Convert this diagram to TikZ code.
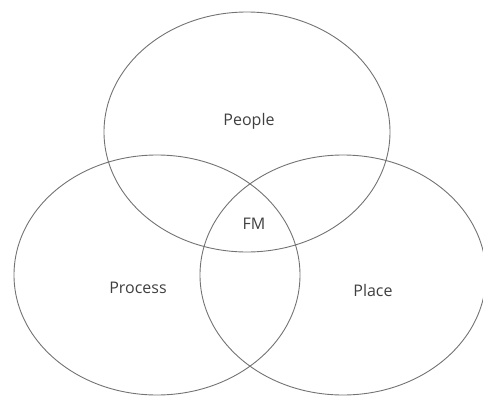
\documentclass[tikz,border=0pt]{standalone}
\usepackage{fontspec}
\setmainfont{Open Sans}
\usepackage{tikz}

\begin{document}
\begin{tikzpicture}[x=1pt,y=-1pt]
 \useasboundingbox (0,0) rectangle (483,397);
 \foreach \x/\y in
  {247/132,157/275,343/275}{
  \draw[draw=black!55,line width=.9pt] (\x,\y) ellipse (143 and 120);}
 \foreach \x/\y/\txt/\id in
  {249/121/People/people,254/224/FM/fm,138/288/Process/process,373/290/Place/place}{
  \node[font=\fontsize{16}{19}\selectfont,text=black!75] (\id) at (\x,\y) {\txt};}
\end{tikzpicture}
\end{document}
